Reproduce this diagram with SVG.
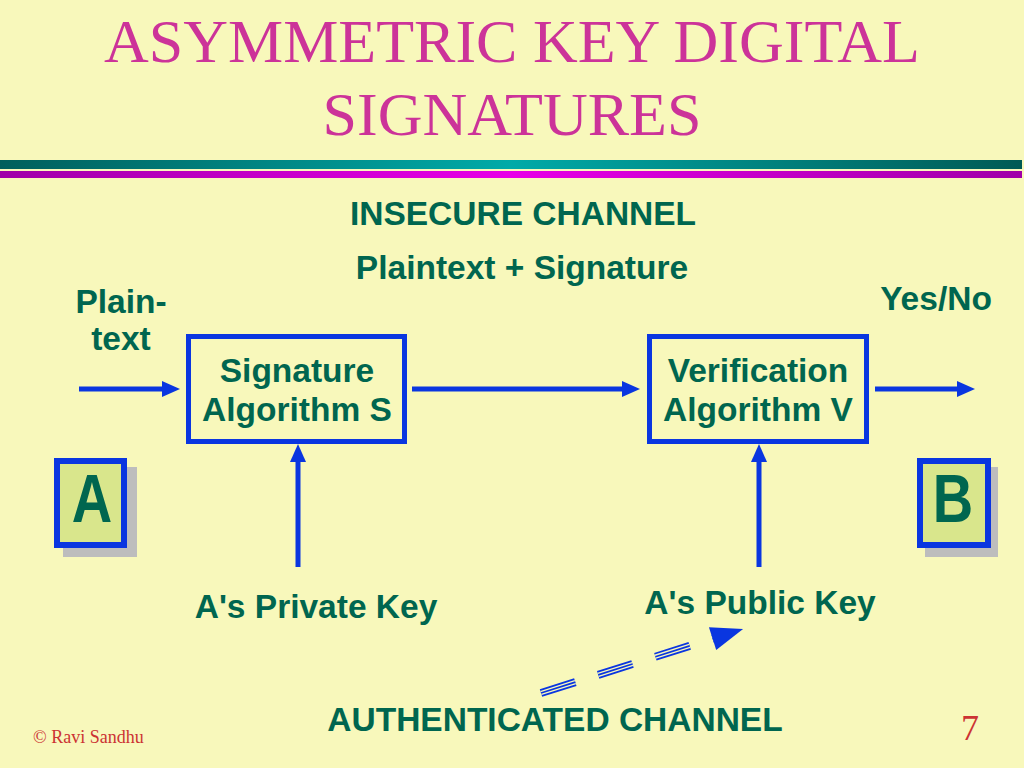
<svg xmlns="http://www.w3.org/2000/svg" width="1024" height="768" viewBox="0 0 1024 768">
<defs>
<linearGradient id="gTeal" x1="0" y1="0" x2="1" y2="0">
<stop offset="0" stop-color="#005f5c"/><stop offset="0.5" stop-color="#00aaa8"/><stop offset="1" stop-color="#005a55"/>
</linearGradient>
<linearGradient id="gMag" x1="0" y1="0" x2="1" y2="0">
<stop offset="0" stop-color="#a000a8"/><stop offset="0.5" stop-color="#e800e8"/><stop offset="1" stop-color="#a000a8"/>
</linearGradient>
<marker id="ah" viewBox="0 0 18 16" refX="0" refY="8" markerWidth="18" markerHeight="16" markerUnits="userSpaceOnUse" orient="auto">
<path d="M0,0 L18,8 L0,16 Z" fill="#0a36e0"/>
</marker>
</defs>
<style>
.title{font-family:"Liberation Serif","Times New Roman",serif;font-size:62px;fill:#cc3399;text-anchor:middle}
.lbl{font-family:"Liberation Sans",Arial,sans-serif;font-weight:bold;font-size:33.5px;fill:#00664f;text-anchor:middle}
.big{font-family:"Liberation Sans",Arial,sans-serif;font-weight:bold;font-size:56px;fill:#00664f;text-anchor:middle}
.foot{font-family:"Liberation Serif","Times New Roman",serif;fill:#cc3333}
.box{fill:none;stroke:#0a36e0;stroke-width:5}
.conn{stroke:#0a36e0;stroke-width:5;fill:none;marker-end:url(#ah)}
.shadow{fill:#bdbdbd}
.card{fill:#d9e68c;stroke:#0a36e0;stroke-width:6}
</style>
<rect x="0" y="0" width="1024" height="768" fill="#f8f8bb"/>
<text class="title" x="512" y="62">ASYMMETRIC KEY DIGITAL</text>
<text class="title" x="512" y="135">SIGNATURES</text>
<rect x="0" y="160" width="1022" height="9" fill="url(#gTeal)"/>
<rect x="0" y="171" width="1022" height="7" fill="url(#gMag)"/>

<text class="lbl" x="523" y="225">INSECURE CHANNEL</text>
<text class="lbl" x="522" y="279">Plaintext + Signature</text>

<g id="plaintext">
<text class="lbl" x="121" y="313">Plain-</text>
<text class="lbl" x="121" y="350">text</text>
</g>
<g id="yesno"><text class="lbl" x="936" y="310">Yes/No</text></g>

<g id="sigS">
<rect class="box" x="188.5" y="336.5" width="216" height="105"/>
<text class="lbl" x="297" y="382">Signature</text>
<text class="lbl" x="297" y="421">Algorithm S</text>
</g>
<g id="verV">
<rect class="box" x="649.5" y="336.5" width="217" height="105"/>
<text class="lbl" x="758" y="382">Verification</text>
<text class="lbl" x="758" y="421">Algorithm V</text>
</g>

<g id="nodeA">
<rect class="shadow" x="63" y="467" width="74" height="90"/>
<rect class="card" x="57" y="461" width="67" height="84"/>
<text class="big" transform="translate(92,522) scale(1,1.22)">A</text>
</g>
<g id="nodeB">
<rect class="shadow" x="925" y="467" width="73" height="90"/>
<rect class="card" x="920" y="461" width="68" height="84"/>
<text class="big" transform="translate(953,522) scale(1,1.22)">B</text>
</g>

<g id="privKey"><text class="lbl" x="316" y="618">A's Private Key</text></g>
<g id="pubKey"><text class="lbl" x="760" y="614">A's Public Key</text></g>
<g id="authChan"><text class="lbl" x="555" y="731">AUTHENTICATED CHANNEL</text></g>

<g id="connectors">
<line class="conn" x1="79" y1="389" x2="162" y2="389"/>
<line class="conn" x1="412" y1="389" x2="622" y2="389"/>
<line class="conn" x1="875" y1="389" x2="957" y2="389"/>
<line class="conn" x1="298" y1="567" x2="298" y2="462"/>
<line class="conn" x1="759" y1="567" x2="759" y2="462"/>
<g transform="translate(541,693) rotate(-17.6)">
<line x1="0" y1="0" x2="188" y2="0" stroke="#0a36e0" stroke-width="8" stroke-dasharray="36 24"/>
<line x1="0" y1="0" x2="188" y2="0" stroke="#f8f8bb" stroke-width="4.4" stroke-dasharray="36 24"/>
<line x1="0" y1="0" x2="188" y2="0" stroke="#0a36e0" stroke-width="1.7" stroke-dasharray="36 24"/>
<path d="M180,-12 L212,0 L180,12 Z" fill="#0a36e0"/>
</g>
</g>

<text class="foot" x="33" y="743" font-size="18">© Ravi Sandhu</text>
<text class="foot" x="970" y="740" font-size="36" text-anchor="middle">7</text>
</svg>
